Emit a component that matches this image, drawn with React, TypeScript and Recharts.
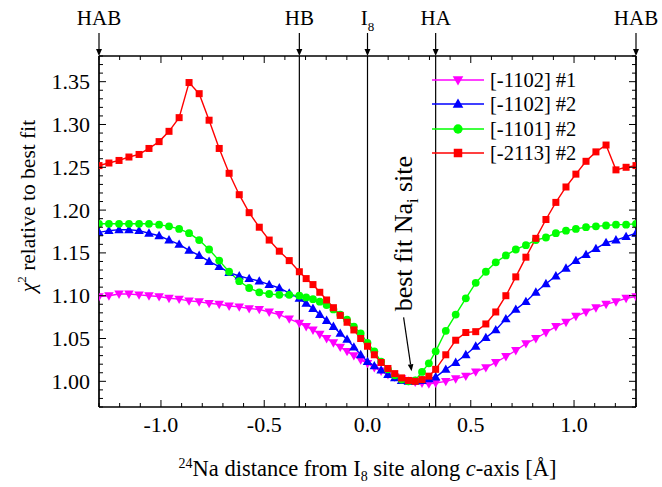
import React from 'react';
import { LineChart, Line, XAxis, YAxis, ReferenceLine, ReferenceDot, Legend } from 'recharts';

const FONT = '"Liberation Serif", "Times New Roman", Times, serif';

// plot frame in page pixels (chart is pinned to 0,0)
const PLOT = { left: 99, right: 636, top: 56, bottom: 407 };

// distance from I8 along c-axis [Å]
const X_POS = [
  -1.300, -1.252, -1.203, -1.155, -1.106, -1.058, -1.009, -0.961, -0.912, -0.864,
  -0.815, -0.767, -0.718, -0.670, -0.621, -0.573, -0.524, -0.476, -0.427, -0.379,
  -0.330, -0.297, -0.264, -0.231, -0.198, -0.165, -0.132, -0.099, -0.066, -0.033,
  0.000, 0.033, 0.066, 0.099, 0.132, 0.165, 0.198, 0.231, 0.264, 0.297,
  0.330, 0.379, 0.427, 0.476, 0.524, 0.573, 0.621, 0.670, 0.718, 0.767,
  0.815, 0.864, 0.912, 0.961, 1.009, 1.058, 1.106, 1.155, 1.203, 1.252,
  1.300,
];

const M1102_1 = [
  1.099, 1.100, 1.102, 1.102, 1.101, 1.100, 1.099, 1.097, 1.096, 1.094,
  1.093, 1.091, 1.090, 1.088, 1.087, 1.085, 1.084, 1.081, 1.078, 1.073,
  1.068, 1.064, 1.060, 1.055, 1.050, 1.045, 1.040, 1.035, 1.030, 1.025,
  1.021, 1.016, 1.012, 1.008, 1.005, 1.003, 1.001, 0.999, 0.998, 0.997,
  0.998, 1.000, 1.003, 1.006, 1.011, 1.016, 1.022, 1.029, 1.036, 1.044,
  1.050, 1.057, 1.064, 1.069, 1.076, 1.081, 1.086, 1.090, 1.093, 1.097,
  1.099,
];

const M1102_2 = [
  1.174, 1.176, 1.177, 1.177, 1.176, 1.173, 1.170, 1.165, 1.160, 1.153,
  1.147, 1.140, 1.134, 1.127, 1.123, 1.120, 1.117, 1.113, 1.109, 1.103,
  1.097, 1.091, 1.085, 1.078, 1.071, 1.064, 1.056, 1.049, 1.040, 1.031,
  1.023, 1.018, 1.013, 1.008, 1.004, 1.001, 1.000, 1.000, 1.001, 1.003,
  1.005, 1.014, 1.022, 1.031, 1.041, 1.051, 1.060, 1.073, 1.084, 1.093,
  1.104, 1.114, 1.123, 1.132, 1.141, 1.148, 1.155, 1.162, 1.165, 1.169,
  1.173,
];

const M1101_2 = [
  1.184, 1.184, 1.184, 1.184, 1.184, 1.184, 1.183, 1.181, 1.178, 1.173,
  1.165, 1.154, 1.141, 1.128, 1.117, 1.109, 1.104, 1.102, 1.101, 1.101,
  1.100, 1.098, 1.096, 1.093, 1.089, 1.084, 1.078, 1.072, 1.064, 1.056,
  1.045, 1.035, 1.023, 1.014, 1.007, 1.002, 1.000, 1.001, 1.011, 1.021,
  1.035, 1.059, 1.078, 1.097, 1.115, 1.128, 1.139, 1.147, 1.154, 1.159,
  1.165, 1.168, 1.173, 1.176, 1.178, 1.180, 1.181, 1.182, 1.183, 1.183,
  1.184,
];

const M2113_2 = [
  1.252, 1.255, 1.258, 1.262, 1.265, 1.272, 1.280, 1.292, 1.308, 1.349,
  1.336, 1.305, 1.272, 1.243, 1.218, 1.197, 1.180, 1.165, 1.152, 1.141,
  1.128, 1.120, 1.113, 1.104, 1.095, 1.086, 1.077, 1.069, 1.060, 1.050,
  1.041, 1.031, 1.022, 1.015, 1.009, 1.004, 1.001, 1.000, 1.002, 1.006,
  1.014, 1.031, 1.048, 1.057, 1.058, 1.067, 1.081, 1.100, 1.122, 1.145,
  1.167, 1.189, 1.209, 1.227, 1.242, 1.257, 1.268, 1.276, 1.247, 1.250,
  1.252,
];

const X_DOMAIN = [-1.3, 1.3];
const Y_DOMAIN = [0.97, 1.38];
const X_TICKS = Array.from({ length: 27 }, (_, i) => +(-1.3 + i * 0.1).toFixed(1));
const Y_TICKS = Array.from({ length: 42 }, (_, i) => +(0.97 + i * 0.01).toFixed(2));

const SITES = [
  { label: 'HAB', x: -1.3 },
  { label: 'HB', x: -0.33 },
  { label: 'I', sub: '8', x: 0 },
  { label: 'HA', x: 0.33 },
  { label: 'HAB', x: 1.3 },
];

const SERIES = [
  { key: 'a', name: '[-1102] #1', color: '#ff00ff', shape: 'down', values: M1102_1 },
  { key: 'b', name: '[-1102] #2', color: '#0000ff', shape: 'up', values: M1102_2 },
  { key: 'c', name: '[-1101] #2', color: '#00ff00', shape: 'circle', values: M1101_2 },
  { key: 'd', name: '[-2113] #2', color: '#ff0000', shape: 'square', values: M2113_2 },
];

const rows = X_POS.map((x, i) => {
  const r: Record<string, number> = { x };
  SERIES.forEach((s) => { r[s.key] = s.values[i]; });
  return r;
});

const isMult = (v: number, step: number) => Math.abs(v / step - Math.round(v / step)) < 1e-6;

function Marker({ cx, cy, shape, color, s = 7 }: any) {
  if (cx == null || cy == null) return null;
  const h = s / 2;
  if (shape === 'square') return <rect x={cx - h} y={cy - h} width={s} height={s} fill={color} />;
  if (shape === 'circle') return <circle cx={cx} cy={cy} r={h + 0.4} fill={color} />;
  const w = h * 1.25;
  if (shape === 'up')
    return <path d={`M${cx},${cy - h * 1.3} L${cx + w},${cy + h * 0.9} L${cx - w},${cy + h * 0.9}Z`} fill={color} />;
  return <path d={`M${cx},${cy + h * 1.3} L${cx + w},${cy - h * 0.9} L${cx - w},${cy - h * 0.9}Z`} fill={color} />;
}

const BottomTick = ({ x, payload }: any) => {
  const v = payload.value;
  const major = isMult(v, 0.5);
  return (
    <g>
      <line x1={x} x2={x} y1={PLOT.bottom} y2={PLOT.bottom - (major ? 7 : 4)} stroke="#000" />
      {major && (
        <text x={x} y={PLOT.bottom + 25} textAnchor="middle" fontSize={22} fill="#000" fontFamily={FONT}>
          {v.toFixed(1)}
        </text>
      )}
    </g>
  );
};

const TopTick = ({ x, payload }: any) => {
  const major = isMult(payload.value, 0.5);
  return <line x1={x} x2={x} y1={PLOT.top} y2={PLOT.top + (major ? 7 : 4)} stroke="#000" />;
};

const LeftTick = ({ y, payload }: any) => {
  const v = payload.value;
  const major = isMult(v, 0.05);
  return (
    <g>
      <line x1={PLOT.left} x2={PLOT.left + (major ? 7 : 4)} y1={y} y2={y} stroke="#000" />
      {major && (
        <text x={PLOT.left - 9} y={y + 7.5} textAnchor="end" fontSize={22} fill="#000" fontFamily={FONT}>
          {v.toFixed(2)}
        </text>
      )}
    </g>
  );
};

const RightTick = ({ y, payload }: any) => {
  const major = isMult(payload.value, 0.05);
  return <line x1={PLOT.right} x2={PLOT.right - (major ? 7 : 4)} y1={y} y2={y} stroke="#000" />;
};

const XTitle = () => (
  <text x={(PLOT.left + PLOT.right) / 2} y={PLOT.bottom + 69} textAnchor="middle" fontSize={22.5} fill="#000" fontFamily={FONT}>
    <tspan fontSize={14} dy={-8}>24</tspan>
    <tspan dy={8}>Na distance from I</tspan>
    <tspan fontSize={14} dy={5}>8</tspan>
    <tspan dy={-5}> site along </tspan>
    <tspan fontStyle="italic">c</tspan>
    <tspan>-axis [Å]</tspan>
  </text>
);

const YTitle = () => (
  <text transform="translate(35,206) rotate(-90)" textAnchor="middle" fontSize={21.5} fill="#000" fontFamily={FONT}>
    <tspan fontStyle="italic">χ</tspan>
    <tspan fontSize={13} dy={-9}>2</tspan>
    <tspan dy={9}> relative to best fit</tspan>
  </text>
);

const siteLabel = (site: any) => (props: any) => {
  const x = props.viewBox?.x ?? 0;
  const top = PLOT.top;
  return (
    <g>
      <text x={x} y={top - 31} textAnchor="middle" fontSize={21} fill="#000" fontFamily={FONT}>
        {site.label}
        {site.sub && <tspan fontSize={13} dy={6}>{site.sub}</tspan>}
      </text>
      <line x1={x} x2={x} y1={top - 23} y2={top - 5} stroke="#000" strokeWidth={1.2} />
      <path d={`M${x - 3},${top - 7} L${x + 3},${top - 7} L${x},${top} Z`} fill="#000" />
    </g>
  );
};

const BestFitNote = ({ cx, cy }: any) => {
  if (cx == null || cy == null) return null;
  const tx = cx - 8, ty = cy - 54;
  const len = Math.hypot(cx - tx, cy - ty);
  const ux = (cx - tx) / len, uy = (cy - ty) / len;
  const bx = cx - ux * 7, by = cy - uy * 7;
  const px = -uy * 2.8, py = ux * 2.8;
  return (
    <g>
      <line x1={tx} y1={ty} x2={bx} y2={by} stroke="#000" strokeWidth={1.2} />
      <path d={`M${cx},${cy} L${bx + px},${by + py} L${bx - px},${by - py} Z`} fill="#000" />
      <text transform={`translate(${cx},${cy - 60}) rotate(-90)`} fontSize={26} fill="#000" fontFamily={FONT}>
        best fit Na
        <tspan fontSize={16} dy={6}>i</tspan>
        <tspan dy={-6}> site</tspan>
      </text>
    </g>
  );
};

const LegendBox = () => (
  <div style={{ fontFamily: FONT, fontSize: 20.5, color: '#000' }}>
    {SERIES.map((s) => (
      <div key={s.key} style={{ display: 'flex', alignItems: 'center', height: 24.3 }}>
        <svg width={52} height={24} style={{ display: 'block' }}>
          <line x1={0} x2={52} y1={12} y2={12} stroke={s.color} strokeWidth={1.3} />
          <Marker cx={26} cy={12} shape={s.shape} color={s.color} s={8.5} />
        </svg>
        <span style={{ marginLeft: 6, lineHeight: '24px', whiteSpace: 'nowrap' }}>{s.name}</span>
      </div>
    ))}
  </div>
);

export default function App() {
  return (
    <div style={{ position: 'absolute', left: 0, top: 0, fontFamily: FONT, background: '#fff' }}>
      <LineChart width={662} height={487} data={rows} margin={{ top: 55, right: 25, bottom: 50, left: 39 }}>
        <XAxis xAxisId="main" type="number" dataKey="x" domain={X_DOMAIN} allowDataOverflow ticks={X_TICKS}
          interval={0} height={30} tickLine={false} tick={BottomTick}
          axisLine={{ stroke: '#000', strokeWidth: 1.3 }} label={{ content: XTitle }} />
        <XAxis xAxisId="top" orientation="top" type="number" dataKey="x" domain={X_DOMAIN} allowDataOverflow
          ticks={X_TICKS} interval={0} height={1} tickLine={false} tick={TopTick}
          axisLine={{ stroke: '#000', strokeWidth: 1.3 }} />
        <YAxis yAxisId="main" type="number" domain={Y_DOMAIN} allowDataOverflow ticks={Y_TICKS} interval={0}
          width={60} tickLine={false} tick={LeftTick} axisLine={{ stroke: '#000', strokeWidth: 1.3 }}
          label={{ content: YTitle }} />
        <YAxis yAxisId="right" orientation="right" type="number" domain={Y_DOMAIN} allowDataOverflow
          ticks={Y_TICKS} interval={0} width={1} tickLine={false} tick={RightTick}
          axisLine={{ stroke: '#000', strokeWidth: 1.3 }} />

        {SITES.map((s, i) => (
          <ReferenceLine key={i} xAxisId="main" yAxisId="main" x={s.x} stroke="#000" strokeWidth={1.2}
            label={{ content: siteLabel(s) }} />
        ))}

        {SERIES.map((s) => (
          <Line key={s.key} xAxisId="main" yAxisId="main" type="linear" dataKey={s.key} name={s.name}
            stroke={s.color} strokeWidth={1.4} isAnimationActive={false} activeDot={false}
            dot={(p: any) => <Marker key={p.index} cx={p.cx} cy={p.cy} shape={s.shape} color={s.color}
              s={s.shape === 'up' || s.shape === 'down' ? 7.6 : 7} />} />
        ))}

        <ReferenceDot xAxisId="main" yAxisId="main" x={0.2135} y={1.0117} shape={BestFitNote} />

        <Legend layout="vertical" align="center" verticalAlign="middle" content={() => <LegendBox />}
          wrapperStyle={{ position: 'absolute', left: 432, top: 68, width: 220 }} />
      </LineChart>
    </div>
  );
}
